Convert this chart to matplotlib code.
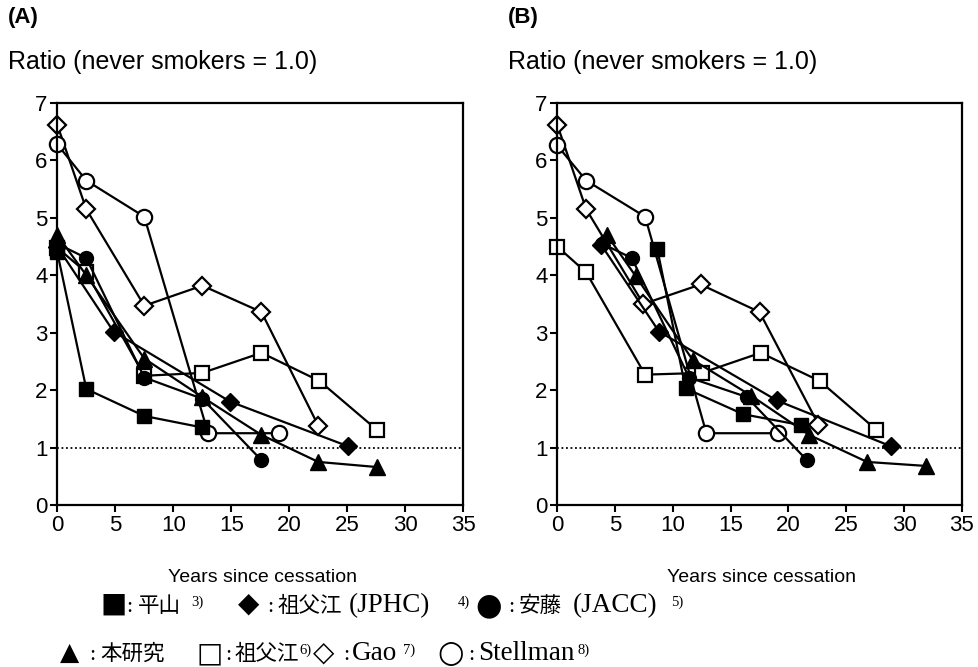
import matplotlib
matplotlib.use("Agg")
import matplotlib.pyplot as plt

# ---------------- data ----------------
# Panel A
A_hirayama_x = [0, 2.5, 7.5, 12.5]
A_hirayama_y = [4.4, 2.02, 1.55, 1.35]
A_jphc_x = [0, 4.85, 14.9, 25.1]
A_jphc_y = [4.5, 3.02, 1.8, 1.02]
A_jacc_x = [0, 2.5, 7.5, 12.5, 17.6]
A_jacc_y = [4.55, 4.3, 2.22, 1.85, 0.78]
A_this_x = [0, 2.5, 7.5, 12.5, 17.6, 22.5, 27.6]
A_this_y = [4.7, 4.0, 2.55, 1.88, 1.22, 0.75, 0.66]
A_sobue_x = [0, 2.5, 7.5, 12.5, 17.6, 22.6, 27.6]
A_sobue_y = [4.48, 4.05, 2.25, 2.3, 2.65, 2.16, 1.3]
A_gao_x = [0, 2.5, 7.5, 12.5, 17.6, 22.5]
A_gao_y = [6.62, 5.15, 3.47, 3.82, 3.36, 1.38]
A_stell_x = [0, 2.5, 7.5, 13.0, 19.1]
A_stell_y = [6.28, 5.65, 5.02, 1.25, 1.25]

# Panel B
B_hirayama_x = [8.65, 11.1, 16.1, 21.1]
B_hirayama_y = [4.46, 2.03, 1.58, 1.39]
B_jphc_x = [3.8, 8.8, 19.0, 28.9]
B_jphc_y = [4.53, 3.02, 1.82, 1.02]
B_jacc_x = [3.9, 6.45, 11.4, 16.4, 21.6]
B_jacc_y = [4.55, 4.3, 2.22, 1.88, 0.78]
B_this_x = [4.3, 6.8, 11.7, 16.8, 21.8, 26.8, 31.9]
B_this_y = [4.7, 3.98, 2.53, 1.9, 1.22, 0.75, 0.68]
B_sobue_x = [0, 2.5, 7.6, 12.5, 17.6, 22.7, 27.6]
B_sobue_y = [4.5, 4.05, 2.27, 2.3, 2.65, 2.16, 1.31]
B_gao_x = [0, 2.5, 7.45, 12.4, 17.5, 22.6]
B_gao_y = [6.62, 5.15, 3.5, 3.84, 3.36, 1.4]
B_stell_x = [0, 2.5, 7.6, 12.9, 19.1]
B_stell_y = [6.26, 5.65, 5.02, 1.25, 1.25]

x_ticks = [0, 5, 10, 15, 20, 25, 30, 35]
y_ticks = [0, 1, 2, 3, 4, 5, 6, 7]
panel_labels = ["(A)", "(B)"]
y_title = "Ratio (never smokers = 1.0)"
x_title = "Years since cessation"

# ---------------- figure ----------------
fig = plt.figure(figsize=(9.79, 6.67), dpi=100)
axA = fig.add_axes([57.3 / 979, (667 - 505) / 667, 406 / 979, 402 / 667])
axB = fig.add_axes([557.3 / 979, (667 - 505) / 667, 404.5 / 979, 402 / 667])

lw = 1.6
ms_sq = 10
open_kw = dict(color="black", lw=lw, mfc="white", mec="black", mew=1.6)
fill_kw = dict(color="black", lw=lw, mfc="black", mec="black", mew=1.0)


def draw(ax, d):
    ax.axhline(1.0, color="black", lw=1.3, ls=(0, (1, 1.5)), zorder=1)
    ax.plot(d["sobue"][0], d["sobue"][1], marker="s", ms=ms_sq, zorder=2, **open_kw)
    ax.plot(d["gao"][0], d["gao"][1], marker="D", ms=9, zorder=2, **open_kw)
    ax.plot(d["stell"][0], d["stell"][1], marker="o", ms=ms_sq + 1, zorder=2, **open_kw)
    ax.plot(d["hira"][0], d["hira"][1], marker="s", ms=ms_sq, zorder=3, **fill_kw)
    ax.plot(d["jphc"][0], d["jphc"][1], marker="D", ms=9, zorder=3, **fill_kw)
    ax.plot(d["jacc"][0], d["jacc"][1], marker="o", ms=ms_sq, zorder=3, **fill_kw)
    ax.plot(d["this"][0], d["this"][1], marker="^", ms=ms_sq + 1, zorder=3, **fill_kw)
    ax.set_xlim(0, 35)
    ax.set_ylim(0, 7)
    ax.set_xticks(x_ticks)
    ax.set_yticks(y_ticks)
    ax.tick_params(direction="out", length=5, width=1.5, labelsize=16, pad=2)
    for lab in ax.get_xticklabels() + ax.get_yticklabels():
        lab.set_family("Liberation Sans")
    for s in ax.spines.values():
        s.set_linewidth(1.6)
    for ln in ax.lines:
        ln.set_clip_on(False)


draw(axA, dict(hira=(A_hirayama_x, A_hirayama_y), jphc=(A_jphc_x, A_jphc_y),
               jacc=(A_jacc_x, A_jacc_y), this=(A_this_x, A_this_y),
               sobue=(A_sobue_x, A_sobue_y), gao=(A_gao_x, A_gao_y),
               stell=(A_stell_x, A_stell_y)))
draw(axB, dict(hira=(B_hirayama_x, B_hirayama_y), jphc=(B_jphc_x, B_jphc_y),
               jacc=(B_jacc_x, B_jacc_y), this=(B_this_x, B_this_y),
               sobue=(B_sobue_x, B_sobue_y), gao=(B_gao_x, B_gao_y),
               stell=(B_stell_x, B_stell_y)))

# titles
for xpx, lab in [(8, panel_labels[0]), (508, panel_labels[1])]:
    fig.text(xpx / 979, 1 - 18 / 667, lab, fontsize=16, fontweight="bold",
             family="Liberation Sans", va="center", ha="left")
    fig.text(xpx / 979, 1 - 62 / 667, y_title, fontsize=18,
             family="Liberation Sans", va="center", ha="left")

for cx in [(57.3 + 463.3) / 2 + 2, (557.3 + 961.7) / 2 + 2]:
    fig.text(cx / 979, 1 - 578 / 667, x_title, fontsize=14,
             family="Liberation Sans", va="center", ha="center")

# legend (text pieces)
serif = ["Liberation Serif", "DejaVu Serif"]
cjk = ["Noto Sans CJK JP", "DejaVu Sans"]
sym = ["DejaVu Sans"]
fs_cjk = 15.5
fs_lat = 19.5
fs_sup = 10.5


def t(xpx, base, s, size, family):
    fig.text(xpx / 979, 1 - base / 667, s, fontsize=size, family=family,
             va="baseline", ha="left")


b1 = 612
t(101, b1, "■", 20, sym)
t(126, b1, ":", 16, serif)
t(138, b1, "平山", fs_cjk, cjk)
t(191, b1 - 6, "3)", fs_sup, serif)
t(238, b1, "◆", 20, sym)
t(267, b1, ":", 16, serif)
t(278, b1, "祖父江", fs_cjk, cjk)
t(349, b1, "(JPHC)", fs_lat, serif)
t(458, b1 - 6, "4)", fs_sup, serif)
t(475, b1 + 2, "●", 22, sym)
t(508, b1, ":", 16, serif)
t(519, b1, "安藤", fs_cjk, cjk)
t(573, b1, "(JACC)", fs_lat, serif)
t(671, b1 - 6, "5)", fs_sup, serif)

b2 = 660
t(60, b2, "▲", 18, sym)
t(89, b2, ":", 16, serif)
t(100, b2, "本研究", fs_cjk, cjk)
t(197, b2 + 1, "□", 20, sym)
t(225, b2, ":", 16, serif)
t(235, b2, "祖父江", fs_cjk, cjk)
t(299, b2 - 6, "6)", fs_sup, serif)
t(313, b2 + 1, "◇", 20, sym)
t(343, b2, ":", 16, serif)
t(352, b2, "Gao", fs_lat, serif)
t(403, b2 - 6, "7)", fs_sup, serif)
t(437, b2 + 2, "○", 22, sym)
t(468, b2, ":", 16, serif)
t(478, b2, "Stellman", fs_lat, serif)
t(578, b2 - 6, "8)", fs_sup, serif)

fig.savefig("out.png", dpi=100)
